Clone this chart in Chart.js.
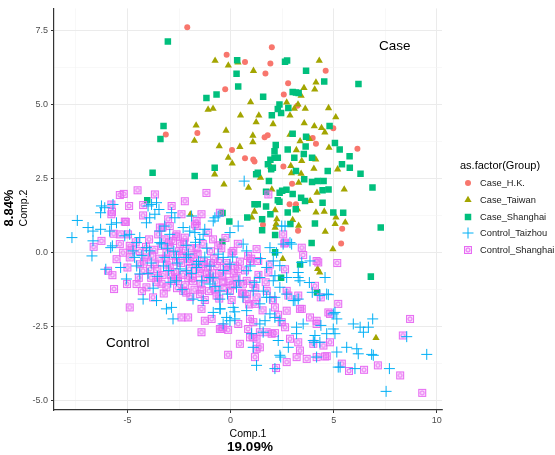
<!DOCTYPE html>
<html>
<head>
<meta charset="utf-8">
<script src="https://cdn.jsdelivr.net/npm/chart.js@4.4.1/dist/chart.umd.min.js"></script>
<style>
  html, body { margin: 0; padding: 0; background: #fff; }
  #wrap { position: relative; width: 555px; height: 455px; font-family: "Liberation Sans", Arial, sans-serif; color: #000; }
  #plot { position: absolute; left: 0; top: 0; }
  .txt { position: absolute; white-space: nowrap; line-height: 1; }
  .rot { transform: translate(-50%, -50%) rotate(-90deg); }
  .ctr { transform: translate(-50%, -50%); }
  #legend { position: absolute; left: 460px; top: 159px; }
  #legend .title { font-size: 11px; height: 16px; }
  #legend .item { height: 16.7px; display: flex; align-items: center; font-size: 9.3px; color: #1a1a1a; }
  #legend canvas { margin-right: 3px; }
</style>
</head>
<body>
<div id="wrap">
  <canvas id="plot" width="555" height="455"></canvas>
  <div class="txt" style="left:379px; top:39px; font-size:13.5px;">Case</div>
  <div class="txt" style="left:106px; top:336px; font-size:13.5px;">Control</div>
  <div class="txt ctr" style="left:248px; top:433px; font-size:10.5px;">Comp.1</div>
  <div class="txt ctr" style="left:250px; top:447px; font-size:13.5px; font-weight:bold;">19.09%</div>
  <div class="txt rot" style="left:23px; top:208px; font-size:10.5px;">Comp.2</div>
  <div class="txt rot" style="left:8px; top:208px; font-size:13px; font-weight:bold;">8.84%</div>
  <div id="legend"></div>
</div>
<script>
'use strict';

// ── Data ──
const groups = ['Case_H.K.', 'Case_Taiwan', 'Case_Shanghai', 'Control_Taizhou', 'Control_Shanghai'];
const legendTitle = 'as.factor(Group)';

const xMajor = [-5, 0, 5, 10];
const xMajorLabels = ['-5', '0', '5', '10'];
const xMinor = [-7.5, -2.5, 2.5, 7.5];
const yMajor = [-5, -2.5, 0, 2.5, 5, 7.5];
const yMajorLabels = ['-5.0', '-2.5', '0.0', '2.5', '5.0', '7.5'];
const yMinor = [-3.75, -1.25, 1.25, 3.75, 6.25];

const caseHK = [
  [-2.1,7.62],[-0.19,6.69],[0.7,6.45],[-0.26,5.53],[-3.14,4.0],[-1.61,4.05],[0.07,3.47],[0.7,3.19],
  [1.1,3.15],[1.16,3.08],[2.0,6.95],[1.93,6.4],[1.69,6.06],[1.65,3.9],[1.8,3.97],[1.57,0.94],
  [4.61,6.15],[2.79,5.73],[2.58,5.35],[3.24,4.97],[4.98,4.21],[3.98,3.88],[4.14,3.68],[6.15,3.51],
  [2.56,2.91],[2.98,2.33],[2.86,1.64],[3.17,1.64],[5.41,0.81],[3.27,0.74],[5.36,0.31]
];

const caseTaiwan = [
  [-0.75,6.49],[-0.11,6.33],[0.36,6.43],[1.11,6.15],[0.97,5.09],[-1.09,4.84],[-0.85,4.87],[0.48,4.64],
  [1.37,4.64],[1.24,4.41],[2.06,4.35],[-1.67,4.3],[-1.75,3.79],[-0.22,4.13],[1.08,3.96],[1.08,3.74],
  [-0.55,3.6],[0.45,3.58],[-0.11,3.21],[0.08,3.02],[-0.77,2.65],[-0.32,2.31],[1.45,2.54],[0.87,2.2],
  [2.0,2.14],[2.16,1.44],[-1.95,1.29],[1.16,1.39],[1.03,1.19],[2.21,0.97],
  [4.3,6.49],[4.14,5.76],[4.08,5.52],[3.56,5.57],[3.42,5.31],[2.72,5.08],[3.27,5.01],[3.62,4.87],
  [3.09,4.87],[4.75,4.89],[5.1,4.58],[2.88,4.64],[3.57,4.38],[4.06,4.28],[4.41,4.22],[4.57,4.07],
  [2.88,3.99],[3.37,3.77],[3.82,3.85],[4.77,3.55],[3.19,3.47],[3.45,3.1],[4.13,3.15],[1.95,2.91],
  [2.92,2.93],[4.04,2.84],[5.19,2.82],[2.95,2.69],[3.42,2.67],[3.3,2.37],[4.19,2.03],[5.51,2.14],
  [3.86,1.75],[4.14,1.36],[4.54,1.39],[5.11,1.19],[2.24,1.13],[3.3,0.91],[5.56,1.02],[4.59,0.71],
  [4.96,0.12],[2.16,0.85],[3.01,1.11],[5.07,0.97],[2.53,-0.21],[4.22,-0.55],[4.32,-0.67],[7.05,-2.88],
  [3.24,1.47]
];

const caseShanghai = [
  [-3.04,7.14],[0.32,6.51],[0.29,6.05],[0.37,5.62],[-1.17,5.23],[-0.68,5.35],[1.58,5.27],[-3.25,4.28],
  [-3.4,3.84],[-3.78,2.7],[-1.74,2.59],[-0.77,2.87],[2.37,5.01],[2.29,4.86],[2.0,4.65],[2.19,3.64],
  [2.13,3.43],[1.81,2.99],[2.05,2.87],[2.29,3.21],[1.32,2.7],[1.24,2.65],[1.86,2.42],[1.72,2.06],
  [1.16,1.64],[1.32,1.64],[1.72,1.56],[0.81,1.19],[1.53,1.13],[1.93,1.3],[-4.04,1.77],[-0.39,1.34],
  [-0.06,1.05],[-0.4,0.37],[1.53,0.76],[2.16,0.6],[2.16,0.01],
  [2.64,6.46],[2.74,6.5],[3.66,6.15],[4.54,5.79],[6.2,5.7],[3.01,5.43],[3.17,5.42],[3.3,5.4],
  [2.45,4.72],[2.8,4.89],[4.8,4.28],[3.01,4.02],[3.66,3.92],[2.77,3.49],[3.64,3.59],[5.06,3.71],
  [5.29,3.49],[5.77,3.26],[1.93,3.14],[2.13,3.21],[1.97,2.82],[3.09,3.21],[3.55,3.34],[3.95,3.21],
  [5.4,2.99],[5.78,2.87],[6.3,2.67],[3.17,2.76],[3.57,2.48],[3.95,2.39],[4.22,2.42],[4.51,2.42],
  [4.71,2.76],[2.38,2.03],[2.5,2.09],[2.71,2.13],[3.01,1.98],[3.42,1.86],[3.61,1.75],[4.46,2.11],
  [4.75,2.14],[6.88,2.2],[2.29,1.77],[2.37,1.72],[3.16,1.47],[4.46,1.69],[4.98,1.36],[5.46,1.35],
  [2.77,1.36],[4.09,0.99],[7.28,0.85],[2.9,0.97],[3.93,0.33],[3.37,-0.4],[6.8,-0.81],[4.19,-1.34],
  [2.45,-0.85]
];

const controlTaizhou = [
  [-7.43,1.09],[-7.69,0.51],[-6.91,0.85],[-6.67,0.73],[-6.3,0.79],[-6.72,-0.11],[-6.26,1.58],[-6.1,1.52],
  [-6.3,1.35],[-5.7,1.63],[-5.78,0.96],[-5.53,1.01],[-5.86,0.73],[-5.81,0.17],[-5.73,0.23],[-6.05,-0.56],
  [-5.33,-0.5],[-6.67,0.4],[-5.13,0.57],[-4.89,0.62],[-4.4,0.51],[-4.56,0.34],[-4.0,1.58],[-3.83,1.63],
  [-3.59,1.69],[-3.67,1.3],[-4.08,1.01],[-3.92,1.18],[-3.47,1.46],[-3.19,0.9],[-2.86,1.35],[-2.7,1.18],
  [-3.43,0.73],[-2.95,0.62],[-4.08,0.17],[-3.92,0.06],[-4.73,0.06],[-4.65,-0.16],[-4.24,-1.57],[-3.59,-1.62],
  [-2.86,-1.85],[-3.19,-0.16],[-5.05,-0.89],[-4.4,-0.72],[-2.62,-0.95],
  [-2.79,-2.24],[-0.84,-2.02],[0.21,-2.24],[1.26,-3.81],[1.1,-3.2],[1.58,-2.69],[-1.82,-1.57],[-1.33,-1.62],
  [-3.11,-1.9],[-0.52,-1.9],[-0.36,-2.41],[0.61,0.29],[0.78,0.06],[-1.65,-0.5],[-1.0,-0.84],[-2.14,-0.16],
  [-1.89,1.24],[-0.84,1.07],[-0.6,1.24],[0.37,0.9],[-0.03,0.68],[-1.49,0.45],[-3.43,0.34],
  [-0.76,1.18],[-2.3,0.85],[-1.98,0.73],[-1.73,0.68],[-1.33,0.62],[1.91,0.17],[2.23,0.0],[2.55,0.29],
  [2.88,0.34],[2.07,-0.28],[1.75,-0.5],[2.39,-0.44],[2.07,-0.95],[1.42,-0.84],[2.72,-0.84],[0.78,-0.61],
  [-0.36,-0.16],[-0.03,-0.39],[-1.65,-0.39],[-2.14,-0.61],[-2.62,-0.16],[3.45,-0.33],[3.28,-0.84],[2.39,-1.17],
  [2.72,-1.4],[1.91,-1.51],[1.1,-1.29],[0.29,-1.17],[-0.52,-1.29],[-1.0,-1.06],
  [-0.03,-2.3],[1.02,-2.74],[1.67,-2.3],[2.39,-3.47],[2.31,-2.97],[2.8,-3.2],[3.2,-2.52],[3.04,-1.62],
  [3.28,-1.57],[2.15,-2.19],[2.39,-2.3],[3.52,-2.41],[4.01,-2.97],[4.09,-2.8],[4.33,-3.03],[4.66,-1.4],
  [4.98,-2.07],[5.06,-2.74],[5.15,-3.36],[5.22,-3.87],[4.17,-3.53],[1.75,-1.51],[-0.52,-1.57],
  [2.48,0.9],[2.64,0.9],[2.96,0.29],[3.28,-0.67],[3.36,-0.95],[3.82,-1.01],[3.96,-1.34],[4.33,-1.45],
  [4.58,-0.84],[4.74,-1.42],[5.06,-2.02],[5.15,-2.24],[5.95,-2.41],[6.28,-2.52],[6.44,-2.69],[6.89,-2.24],
  [6.68,-2.52],[5.63,-3.2],[6.12,-3.25],[6.19,-3.42],[6.84,-3.44],[6.92,-3.47],[5.31,-3.87],[6.03,-3.92],
  [7.7,-3.92],[7.54,-4.69],[8.54,-2.84],[9.51,-3.44],[2.43,-3.53],[2.15,-3.92],[3.2,-2.74],[4.06,-3.03],
  [4.66,-2.74],[4.38,-2.46],[4.98,-2.58],[1.91,-2.07],[1.42,-2.41],[0.78,-1.96],[0.13,-1.85],[-0.19,-2.19],
  [3.85,-0.28],[3.12,-1.62],[2.15,-1.51],[1.42,-1.73],[2.15,-0.78],[0.66,2.42],[-1.25,0.79],
  [-4.3,-0.1],[-3.85,-0.35],[-3.55,-0.8],[-3.35,0.3],[-3.0,-0.6],[-2.75,0.05],[-2.6,-0.35],[-2.35,-1.25],
  [-2.05,-0.05],[-1.9,-0.7],[-1.55,-0.3],[-1.4,-0.95],[-1.15,0.15],[-1.0,-0.45],[-0.75,-1.15],[-0.6,-0.05],
  [-0.35,-0.6],[-0.15,-1.4],[0.1,-0.15],[0.4,-0.95],[0.6,-1.5],[0.95,-0.45],[1.15,-1.0],[1.45,-0.2],
  [1.6,-1.3],[-2.9,-1.0],[-4.0,-0.7],[-1.7,0.35],[-0.5,-1.9],[0.2,-2.0],
  [-3.75,-1.2],[-3.25,-0.45],[-2.45,-0.55],[-1.25,-0.15],[-0.85,-0.85],[-2.15,0.25],[-4.55,-0.45],[-3.05,0.15]
];

const controlShanghai = [
  [-4.51,2.11],[-5.37,1.95],[-5.18,1.99],[-3.67,1.97],[-5.78,1.63],[-4.92,1.58],[-4.24,1.26],[-5.78,1.3],
  [-5.08,1.04],[-5.67,0.64],[-6.26,0.4],[-6.64,0.2],[-5.37,0.62],[-4.97,0.62],[-5.21,0.0],[-5.53,-0.22],
  [-5.94,-0.61],[-5.73,-0.76],[-5.65,-1.23],[-5.02,-1.06],[-4.56,-1.06],[-4.08,-1.17],[-4.89,-1.85],[-3.76,-1.51],
  [-3.24,-1.38],[-3.3,0.85],[-3.51,0.62],[-4.4,0.06],[-4.89,-0.16],[-4.08,-0.16],[-3.67,-0.39],[-4.4,-0.39],
  [-3.11,0.0],[-2.95,-0.5],[-4.24,-0.61],[-3.51,-0.84],[-2.86,-0.95],[-3.11,-1.17],[-3.35,0.23],[-2.79,0.4],
  [-4.89,0.23],[-5.37,0.29],
  [-1.41,-2.69],[-2.38,-2.19],[-0.92,-2.24],[-0.12,-3.45],[0.45,-3.08],[-0.44,-2.58],[0.37,-2.41],[1.1,-2.86],
  [1.42,-2.69],[1.18,-3.53],[0.85,-2.58],[1.26,-3.25],[1.26,-1.51],[0.61,-1.4],[1.1,-1.06],[0.21,-0.44],
  [0.13,0.06],[1.26,0.12],[0.85,-0.11],[-1.09,0.68],[-1.65,0.9],[-2.22,0.51],[-2.38,1.3],[-1.41,1.3],
  [-2.86,1.58],[-2.22,1.74],[-1.17,2.02],[-0.52,1.35],[-1.65,1.07],[-5.75,1.38],[-4.24,1.61],[-5.13,1.05],
  [-3.03,1.13],[-3.43,0.85],
  [-1.73,0.96],[-2.95,0.9],[-2.62,0.62],[0.05,0.0],[2.64,0.34],[3.45,0.17],[1.34,-0.28],[2.64,-0.56],
  [1.83,-0.67],[0.94,-0.28],[0.78,-0.95],[1.75,-1.29],[2.8,-1.45],[3.28,-1.45],[-0.52,-0.28],[-0.19,-0.5],
  [-1.33,-0.39],[-1.98,-0.28],[-2.3,0.06],[-1.0,-0.84],[-1.82,-0.95],[-2.62,-0.84],[0.29,-0.84],[-0.03,-1.29],
  [0.78,-1.57],[-0.68,-1.45],[-1.49,-1.4],[-2.3,-1.29],[1.18,-1.73],
  [1.42,-3.2],[0.94,-2.86],[1.75,-2.69],[2.15,-2.72],[2.72,-3.7],[2.2,-3.9],[3.2,-3.53],[3.36,-3.31],
  [3.69,-3.59],[4.17,-3.53],[4.58,-3.51],[2.88,-2.91],[3.28,-3.03],[4.01,-3.08],[4.82,-3.03],[4.5,-3.14],
  [4.17,-2.41],[4.74,-2.02],[-0.36,-2.52],[-1.25,-2.3],[-0.52,-2.58],[-0.12,-2.61],[0.94,-2.24],[1.1,-2.35],
  [2.15,-1.85],[2.72,-1.96],[2.48,-2.35],[3.45,-1.9],[3.85,-2.19],[4.17,-2.3],[-2.06,-2.19],[-1.41,-1.9],
  [2.55,0.62],[3.52,-0.08],[4.17,-0.28],[4.25,-0.33],[5.17,-0.35],[4.09,-1.12],[4.37,-1.51],[5.22,-1.73],
  [4.82,-2.07],[2.72,-1.29],[3.36,-1.9],[8.7,-2.24],[8.35,-2.8],[7.14,-3.81],[8.22,-4.15],[9.29,-4.74],
  [6.47,-3.96],[5.74,-4.0],[5.39,-3.75],[4.66,-3.5],[1.26,-2.91],[1.99,-2.74],[2.64,-2.52],[1.83,1.97],
  [2.6,0.31],
  [-4.2,-0.3],[-3.9,-0.55],[-3.7,0.1],[-3.45,-0.2],[-3.3,-0.75],[-3.1,-0.4],[-2.95,0.2],[-2.8,-0.1],
  [-2.7,-0.65],[-2.55,-0.95],[-2.5,0.05],[-2.4,-0.35],[-2.3,-0.75],[-2.2,-1.1],[-2.1,-0.2],[-2.0,-0.55],
  [-1.9,0.15],[-1.85,-0.85],[-1.75,-1.25],[-1.7,-0.4],[-1.6,-0.05],[-1.5,-0.7],[-1.45,-1.05],[-1.35,0.3],
  [-1.3,-0.3],[-1.2,-0.9],[-1.1,-0.5],[-1.05,-1.3],[-0.95,0.05],[-0.9,-0.7],[-0.8,-0.2],[-0.7,-1.0],
  [-0.65,-0.45],[-0.55,-1.55],[-0.45,0.15],[-0.4,-0.8],[-0.3,-1.2],[-0.2,-0.35],[-0.1,-0.95],[0.05,-1.6],
  [0.15,-0.7],[0.3,-1.05],[0.45,-0.3],[0.55,-1.35],[0.7,-0.6],[0.9,-1.75],[1.0,-0.2],[1.2,-1.2],
  [1.35,-0.75],[1.55,-1.95],[1.7,-1.0],[1.9,-0.4],[2.05,-1.6],[2.3,-2.1],[-4.6,0.35],[-4.45,-0.85],
  [-3.95,0.45],[-3.6,-1.0],[-3.2,0.45],[-2.65,0.55],[-2.25,0.35],[-1.95,-1.5],[-1.25,-1.6],[-0.85,0.45],
  [-0.25,0.5],[0.35,0.3],[-5.0,-0.5],[-4.8,0.1],
  [-3.8,-0.1],[-3.55,-0.55],[-3.35,-1.05],[-3.15,-0.2],[-2.9,-0.75],[-2.65,-0.3],[-2.6,-1.2],[-2.35,-0.1],
  [-2.05,-0.85],[-1.8,-0.15],[-1.55,-0.55],[-1.4,-1.25],[-1.15,-0.7],[-0.95,-0.35],[-0.75,-1.25],[-0.55,-0.7],
  [-0.35,-1.0],[-0.15,-0.6],[0.1,-1.1],[0.35,-0.55],[0.6,-1.05],[0.8,-1.4],[-4.1,0.2],[-3.85,-0.85],
  [-2.45,0.3],[-1.65,0.15],[-2.15,-1.35],[-0.6,0.25],[-3.0,0.35],[-4.3,-1.3]
];

// ── Styles (ggplot default hues) ──
const COLORS = ['#F8766D', '#A3A500', '#00BF7D', '#00B0F6', '#E76BF3'];
const GRID_MAJOR = '#EBEBEB';
const GRID_MINOR = '#F4F4F4';
const AXIS = '#333333';
const TICK_TXT = '#4D4D4D';

// square with a ring inside, for Control_Shanghai
function boxRing(color) {
  const c = document.createElement('canvas');
  c.width = 10; c.height = 10;
  const g = c.getContext('2d');
  g.fillStyle = 'rgba(231,107,243,0.22)';
  g.fillRect(1, 1, 8, 8);
  g.strokeStyle = color;
  g.lineWidth = 1;
  g.strokeRect(1.5, 1.5, 7, 7);
  g.beginPath();
  g.arc(5, 5, 2, 0, 2 * Math.PI);
  g.stroke();
  return c;
}
const ringStyle = boxRing(COLORS[4]);

const toXY = (pts) => pts.map((p) => ({ x: p[0], y: p[1] }));
const isIn = (arr, v) => arr.some((a) => Math.abs(a - v) < 1e-9);

const datasets = [
  { label: groups[0], data: toXY(caseHK), pointStyle: 'circle', pointRadius: 3,
    backgroundColor: COLORS[0], borderWidth: 0, order: 4 },
  { label: groups[1], data: toXY(caseTaiwan), pointStyle: 'triangle', pointRadius: 4.2,
    backgroundColor: COLORS[1], borderWidth: 0, order: 3 },
  { label: groups[2], data: toXY(caseShanghai), pointStyle: 'rect', pointRadius: 4.6,
    backgroundColor: COLORS[2], borderWidth: 0, order: 2 },
  { label: groups[3], data: toXY(controlTaizhou), pointStyle: 'cross', pointRadius: 5.5,
    borderColor: COLORS[3], backgroundColor: COLORS[3], borderWidth: 1, order: 0 },
  { label: groups[4], data: toXY(controlShanghai), pointStyle: ringStyle, pointRadius: 5,
    backgroundColor: COLORS[4], borderColor: COLORS[4], order: 1 },
];

new Chart(document.getElementById('plot'), {
  type: 'scatter',
  data: { datasets },
  options: {
    responsive: false,
    animation: false,
    events: [],
    layout: { padding: { top: 7, right: 113, left: 0, bottom: 0 } },
    plugins: { legend: { display: false }, tooltip: { enabled: false } },
    scales: {
      x: {
        type: 'linear', position: 'bottom', min: -8.56, max: 10.25,
        afterBuildTicks: (s) => { s.ticks = xMinor.concat(xMajor).sort((a, b) => a - b).map((v) => ({ value: v })); },
        afterFit: (s) => { s.height = 45; },
        ticks: {
          autoSkip: false, maxRotation: 0, padding: 2, color: TICK_TXT,
          font: { family: "'Liberation Sans', Arial, sans-serif", size: 9 },
          callback: (v) => (isIn(xMajor, v) ? xMajorLabels[xMajor.findIndex((a) => Math.abs(a - v) < 1e-9)] : ''),
        },
        grid: {
          color: (c) => (c.tick && isIn(xMajor, c.tick.value) ? GRID_MAJOR : GRID_MINOR),
          lineWidth: (c) => (c.tick && isIn(xMajor, c.tick.value) ? 1 : 0.6),
          tickColor: (c) => (c.tick && isIn(xMajor, c.tick.value) ? AXIS : 'rgba(0,0,0,0)'),
          tickLength: 3,
        },
        border: { display: true, color: AXIS, width: 1.2 },
      },
      y: {
        type: 'linear', position: 'left', min: -5.32, max: 8.26,
        afterBuildTicks: (s) => { s.ticks = yMinor.concat(yMajor).sort((a, b) => a - b).map((v) => ({ value: v })); },
        afterFit: (s) => { s.width = 54; },
        ticks: {
          autoSkip: false, padding: 3, color: TICK_TXT,
          font: { family: "'Liberation Sans', Arial, sans-serif", size: 9 },
          callback: (v) => (isIn(yMajor, v) ? yMajorLabels[yMajor.findIndex((a) => Math.abs(a - v) < 1e-9)] : ''),
        },
        grid: {
          color: (c) => (c.tick && isIn(yMajor, c.tick.value) ? GRID_MAJOR : GRID_MINOR),
          lineWidth: (c) => (c.tick && isIn(yMajor, c.tick.value) ? 1 : 0.6),
          tickColor: (c) => (c.tick && isIn(yMajor, c.tick.value) ? AXIS : 'rgba(0,0,0,0)'),
          tickLength: 3,
        },
        border: { display: true, color: AXIS, width: 1.2 },
      },
    },
  },
});

// ── Legend (HTML, markers drawn on tiny canvases) ──
function drawMark(g, i, x, y) {
  const col = COLORS[i];
  g.fillStyle = col;
  g.strokeStyle = col;
  if (i === 0) {
    g.beginPath(); g.arc(x, y, 3, 0, 2 * Math.PI); g.fill();
  } else if (i === 1) {
    const r = 4.2;
    g.beginPath();
    for (let k = 0; k < 3; k++) {
      const a = k * 2 * Math.PI / 3;
      const px = x + Math.sin(a) * r, py = y - Math.cos(a) * r;
      if (k === 0) g.moveTo(px, py); else g.lineTo(px, py);
    }
    g.closePath(); g.fill();
  } else if (i === 2) {
    g.fillRect(x - 3.25, y - 3.25, 6.5, 6.5);
  } else if (i === 3) {
    g.lineWidth = 1;
    g.beginPath(); g.moveTo(x - 5.5, y); g.lineTo(x + 5.5, y); g.moveTo(x, y - 5.5); g.lineTo(x, y + 5.5); g.stroke();
  } else {
    g.drawImage(ringStyle, x - 5, y - 5);
  }
}

const legend = document.getElementById('legend');
const ttl = document.createElement('div');
ttl.className = 'title';
ttl.textContent = legendTitle;
legend.appendChild(ttl);
groups.forEach((name, i) => {
  const row = document.createElement('div');
  row.className = 'item';
  const c = document.createElement('canvas');
  c.width = 17; c.height = 14;
  drawMark(c.getContext('2d'), i, 8, 7);
  const s = document.createElement('span');
  s.textContent = name;
  row.appendChild(c);
  row.appendChild(s);
  legend.appendChild(row);
});
</script>
</body>
</html>
